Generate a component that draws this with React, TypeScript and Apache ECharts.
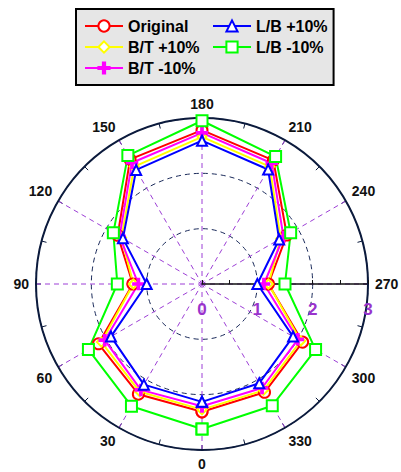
import React, { useEffect, useRef } from 'react';
import * as echarts from 'echarts';

const angles = [0, 30, 60, 90, 120, 150, 180, 210, 240, 270, 300, 330];
const original = [2.31, 2.30, 2.16, 1.25, 1.76, 2.60, 2.78, 2.58, 1.77, 1.20, 2.10, 2.26];
const btPlus10 = [2.27, 2.25, 2.10, 1.24, 1.68, 2.45, 2.66, 2.45, 1.64, 1.20, 2.06, 2.22];
const btMinus10 = [2.21, 2.21, 2.03, 1.15, 1.72, 2.53, 2.73, 2.52, 1.70, 1.12, 2.00, 2.17];
const lbPlus10 = [2.13, 2.10, 1.90, 1.00, 1.65, 2.38, 2.59, 2.39, 1.61, 1.00, 1.90, 2.07];
const lbMinus10 = [2.62, 2.55, 2.37, 1.53, 1.85, 2.68, 2.95, 2.66, 1.85, 1.50, 2.37, 2.54];

const seriesNames = ['Original', 'B/T +10%', 'B/T -10%', 'L/B +10%', 'L/B -10%'];
const seriesValues = [original, btPlus10, btMinus10, lbPlus10, lbMinus10];
const seriesColors = ['#ff0000', '#ffff00', '#ff00ff', '#0000ff', '#00ff00'];
const plusPath = 'path://M4,0H6V4H10V6H6V10H4V6H0V4H4Z';
const seriesSymbols = ['emptyCircle', 'emptyDiamond', plusPath, 'emptyTriangle', 'emptyRect'];
const seriesSymbolSizes = [11, 9, 11, 10, 11];

const radiusMin = 0;
const radiusMax = 3;
const angleMax = 360;

const FONT = '"Liberation Sans", Arial, Helvetica, sans-serif';

export default function App() {
  const ref = useRef<HTMLDivElement>(null);
  useEffect(() => {
    if (!ref.current) return;
    const chart = echarts.init(ref.current, undefined, { renderer: 'svg' });
    const center = [202, 284];
    const radius = 166;
    const series = seriesNames.map((name, i) => {
      const vals = seriesValues[i];
      const data = angles.map((a, k) => [vals[k], a]);
      data.push([vals[0], angleMax]);
      return {
        name,
        type: 'line',
        coordinateSystem: 'polar',
        polarIndex: 0,
        data,
        symbol: seriesSymbols[i],
        symbolSize: seriesSymbolSizes[i],
        showSymbol: true,
        color: seriesColors[i],
        lineStyle: { color: seriesColors[i], width: 2 },
        itemStyle: { color: seriesColors[i], borderColor: seriesColors[i], borderWidth: 1.5 },
        z: 3,
        silent: true,
      };
    });
    const legendText = { fontFamily: FONT, fontWeight: 'bold', fontSize: 16, color: '#000' };
    chart.setOption({
      animation: false,
      backgroundColor: '#ffffff',
      legend: [
        {
          data: seriesNames.slice(0, 3),
          orient: 'vertical',
          left: 76,
          top: 9,
          padding: [9, 134, 9, 8],
          itemGap: 5,
          itemWidth: 38,
          itemHeight: 14,
          backgroundColor: '#e6e6e6',
          borderColor: '#000',
          borderWidth: 2,
          textStyle: legendText,
          selectedMode: false,
        },
        {
          data: seriesNames.slice(3),
          orient: 'vertical',
          left: 212,
          top: 18,
          padding: 0,
          itemGap: 5,
          itemWidth: 38,
          itemHeight: 14,
          textStyle: legendText,
          selectedMode: false,
        },
      ],
      polar: [
        { center, radius },
        { center, radius },
      ],
      angleAxis: [
        {
          polarIndex: 0,
          type: 'value',
          min: 0,
          max: angleMax,
          interval: 30,
          startAngle: 270,
          clockwise: true,
          axisLine: { show: true, lineStyle: { color: '#0b1a3c', width: 2 } },
          axisTick: { show: true, inside: true, length: 5, lineStyle: { color: '#0b1a3c', width: 1 } },
          minorTick: { show: true, splitNumber: 2, length: 5, lineStyle: { color: '#0b1a3c', width: 1 } },
          axisLabel: {
            margin: 7,
            color: '#111',
            fontFamily: FONT,
            fontWeight: 'bold',
            fontSize: 14,
            formatter: (v: number) => (v === angleMax ? '' : String(v)),
          },
          splitLine: { show: true, lineStyle: { color: '#9d3fd6', type: [5, 4], width: 1 } },
        },
        {
          polarIndex: 1,
          type: 'value',
          min: 0,
          max: angleMax,
          startAngle: 0,
          show: false,
        },
      ],
      radiusAxis: [
        {
          polarIndex: 0,
          type: 'value',
          min: radiusMin,
          max: radiusMax,
          interval: 1,
          axisLine: { show: false },
          axisTick: { show: false },
          axisLabel: { show: false },
          splitLine: { show: true, lineStyle: { color: '#1a2a5a', type: [5, 4], width: 1 } },
        },
        {
          polarIndex: 1,
          type: 'value',
          min: radiusMin,
          max: radiusMax,
          interval: 1,
          axisLine: { show: true, lineStyle: { color: '#111', width: 1.5 } },
          axisTick: { show: true, length: 4, lineStyle: { color: '#111' } },
          minorTick: { show: true, splitNumber: 2, length: 4, lineStyle: { color: '#111' } },
          axisLabel: {
            show: true,
            margin: -34,
            color: '#9933cc',
            fontFamily: FONT,
            fontWeight: 'bold',
            fontSize: 17,
          },
          splitLine: { show: false },
        },
      ],
      series,
    });
    return () => chart.dispose();
  }, []);
  return <div ref={ref} style={{ position: 'absolute', left: 0, top: 0, width: 401, height: 472 }} />;
}
